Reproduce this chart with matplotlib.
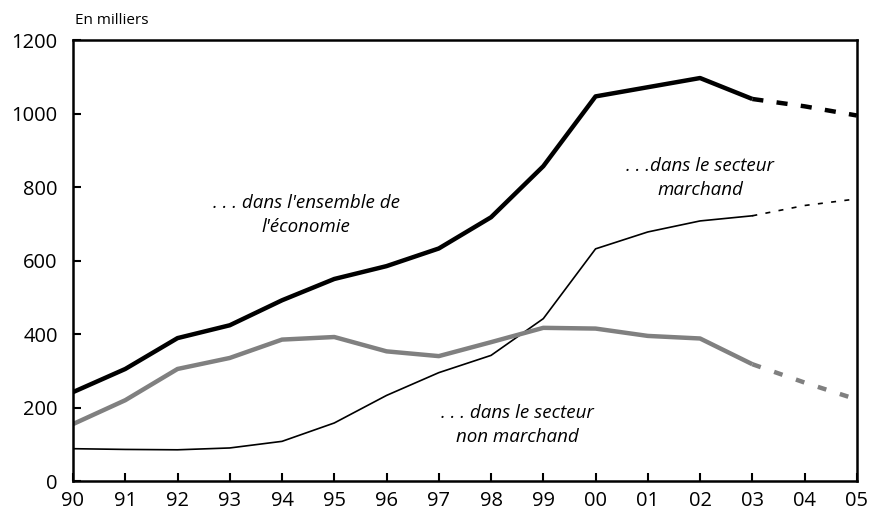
import matplotlib.pyplot as plt
import numpy as np

plt.rcParams['font.family'] = ['Open Sans', 'DejaVu Sans']

# Data
years = ['90', '91', '92', '93', '94', '95', '96', '97', '98', '99',
         '00', '01', '02', '03', '04', '05']
ensemble = [242, 305, 389, 424, 492, 550, 585, 633, 718, 857,
            1047, 1072, 1097, 1040, 1020, 995]
marchand = [88, 86, 85, 90, 108, 158, 233, 295, 342, 442,
            632, 678, 708, 722, 750, 768]
non_marchand = [155, 220, 305, 335, 385, 392, 353, 340, 378, 417,
                415, 395, 388, 318, 268, 222]

x = np.arange(len(years))
split = 13  # from 03 on it is a projection
gray = '#808080'

fig = plt.figure(figsize=(8.69, 5.22), dpi=100)
ax = fig.add_axes([0.084, 0.0785, 0.902, 0.8445])

# observed parts
ax.plot(x[:split + 1], ensemble[:split + 1], color='black', lw=3.2, solid_capstyle='butt')
ax.plot(x[:split + 1], marchand[:split + 1], color='black', lw=1.2)
ax.plot(x[:split + 1], non_marchand[:split + 1], color=gray, lw=3.2, solid_capstyle='butt')

# projections
ax.plot(x[split:], ensemble[split:], color='black', lw=3.2, ls=(0, (2.5, 3)))
ax.plot(x[split:], marchand[split:], color='black', lw=1.2, ls=(0, (3, 5)))
ax.plot(x[split:], non_marchand[split:], color=gray, lw=3.2, ls=(0, (2, 3.2)))

ax.set_xlim(0, len(years) - 1)
ax.set_ylim(0, 1200)
ax.set_xticks(x)
ax.set_xticklabels(years)
ax.set_yticks(np.arange(0, 1201, 200))
ax.tick_params(direction='in', length=6, width=1.5, labelsize=14.5)
ax.tick_params(axis='x', pad=7)
ax.tick_params(axis='y', pad=11)
for s in ax.spines.values():
    s.set_linewidth(1.8)

ax.text(0.03, 1232, 'En milliers', fontsize=11, ha='left', va='bottom')

ax.text(4.46, 724, ". . . dans l'ensemble de\nl'économie", fontsize=13.5, style='italic',
        ha='center', va='center', linespacing=1.4)
ax.text(12.0, 825, '. . .dans le secteur\nmarchand', fontsize=13.5, style='italic',
        ha='center', va='center', linespacing=1.4)
ax.text(8.5, 152, '. . . dans le secteur\nnon marchand', fontsize=13.5, style='italic',
        ha='center', va='center', linespacing=1.4)

fig.savefig('out.png', dpi=100)
